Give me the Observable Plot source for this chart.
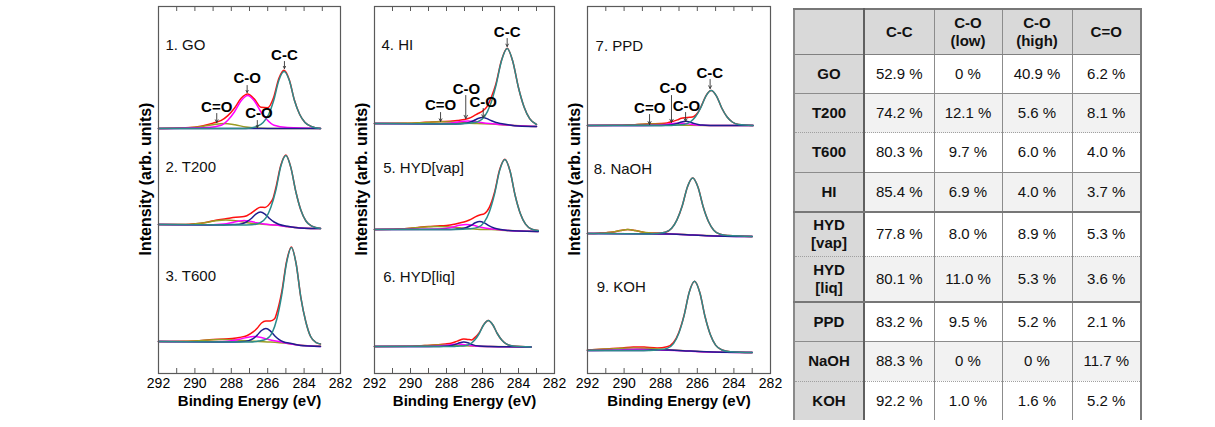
<!DOCTYPE html>
<html><head><meta charset="utf-8">
<script src="https://cdn.jsdelivr.net/npm/d3@7"></script>
<script src="https://cdn.jsdelivr.net/npm/@observablehq/plot@0.6"></script>
<style>
body{margin:0;background:#fff;font-family:"Liberation Sans",Arial,sans-serif;}
#wrap{position:relative;width:1215px;height:427px;overflow:hidden;background:#fff;}
#wrap svg{position:absolute;top:0;max-width:none;}
#tbl td,#tbl th{padding:0;text-align:center;vertical-align:middle;line-height:18px;}
</style></head><body><div id="wrap"></div>
<script>
// ---------- XPS C1s spectra: [binding energy (eV), intensity (arb.)] ----------
// component order: envelope, C=O, C-O(high), C-O(low), C-C
const GO_env = [[292,0],[290.5,0.7],[289.6,2.6],[289,5.4],[288.55,8.1],[288.19,12.9],[287.83,20.3],[287.46,30.2],[287.1,34.5],[286.74,29.6],[286.37,21.2],[286.01,20.8],[285.67,31.3],[285.39,50],[285.1,58.3],[284.81,48.5],[284.53,28.2],[284.24,14],[283.95,6],[283.6,2],[283.1,0]];
const GO_CdO = [[292,0],[290.8,0.4],[290,1.2],[289.6,2],[289,3.7],[288.4,5],[287.8,3.7],[287.2,1.5],[286.6,0.4],[286,0],[283.1,0]];
const GO_COhigh = [[292,0],[289.28,1],[288.55,3.3],[288.19,8.3],[287.83,16.5],[287.46,27.7],[287.1,33],[286.74,27.7],[286.37,16.5],[286.01,8.3],[285.65,3.3],[284.92,1],[283.1,0]];
const GO_COlow = [[292,0],[283.1,0]];
const GO_CC = [[292,0],[287.2,0],[286.6,2],[286.25,6],[285.95,14],[285.67,28],[285.39,48],[285.1,57],[284.81,48],[284.53,28],[284.24,14],[283.95,6],[283.6,2],[283.1,0]];

const T200_env = [[292,4],[290.5,4],[289.95,4.75],[289.4,6.1],[288.85,8.3],[288.3,9.8],[287.75,11.3],[287.3,11.9],[286.9,15.5],[286.65,18.9],[286.4,21.2],[286.15,21.1],[285.9,24.6],[285.7,30.5],[285.55,41],[285.28,63.3],[285.0,73.5],[284.73,61.1],[284.45,36.5],[284.18,18.5],[283.9,7.5],[283.57,2.3],[283.1,0]];
const T200_CdO = [[292,4],[290.5,4],[289.95,4.75],[289.4,6],[288.85,7.7],[288.3,8.5],[287.75,7.7],[287.2,6],[286.65,4.75],[286.1,4],[285.5,3.5],[285,2],[284.5,1],[284,0.3],[283.1,0]];
const T200_COhigh = [[292,4],[289.2,3.6],[288.4,4.4],[288.0,5.7],[287.6,7.3],[287.3,8],[287.0,7.3],[286.6,5.7],[286.2,4.4],[285.6,3.5],[285,2],[284.5,1],[284,0.3],[283.1,0]];
const T200_COlow = [[292,4],[288.4,3.5],[287.9,3.9],[287.4,4.8],[287.15,6.75],[286.9,10],[286.65,14.4],[286.4,16.5],[286.15,14.4],[285.9,10],[285.65,6.5],[285.4,4.3],[284.9,2.2],[284.5,1],[284,0.3],[283.1,0]];
const T200_CC = [[292,4],[287.5,3.5],[286.87,3.7],[286.43,5.5],[286.1,10.6],[285.83,21],[285.55,38.5],[285.28,62.3],[285.0,73],[284.73,61.1],[284.45,36.5],[284.18,18.5],[283.9,7.5],[283.57,2.3],[283.1,0]];

const T600_env = [[292,5],[290,5.5],[289,7.1],[288.35,7.5],[287.95,8.1],[287.55,9.1],[287.15,10.8],[286.8,14.6],[286.58,18.2],[286.34,23.5],[286.1,25.5],[285.86,25.6],[285.62,27.8],[285.49,34.2],[285.23,54.5],[284.96,85.3],[284.7,99.5],[284.44,83],[284.18,49.2],[283.91,25],[283.65,10.2],[283.33,3.8],[283.1,2.5]];
const T600_CdO = [[292,5],[290,5.5],[289,6.8],[288.5,7],[288,6.8],[287,5.5],[286,4.6],[285,3.2],[284.5,2],[284,1],[283.1,0.5]];
const T600_COhigh = [[292,5],[289.5,4.7],[288.35,5.05],[287.95,5.9],[287.55,7.25],[287.15,9.1],[286.75,10],[286.35,9],[285.95,7],[285.55,5.4],[285.15,4],[284.35,1.5],[283.1,0]];
const T600_COlow = [[292,5],[288,4.5],[287.5,4.8],[287.05,5.9],[286.8,7.9],[286.58,11.4],[286.34,16],[286.1,18],[285.86,15.7],[285.62,10.8],[285.39,7.2],[285.15,4.8],[284.7,3],[284.2,1],[283.1,0]];
const T600_CC = [[292,5],[287,4.5],[286.49,5.5],[286.07,7.4],[285.75,14],[285.49,28],[285.23,51.5],[284.96,84],[284.7,99],[284.44,83],[284.18,49.2],[283.91,25],[283.65,10.2],[283.33,3.8],[283.1,2.5]];

const HI_env = [[292,3],[290.3,3.2],[289.5,3.75],[288.8,4.6],[288.3,5],[287.8,5.25],[287.4,6.1],[287.0,7],[286.75,8.2],[286.5,10.4],[286.25,13],[286.0,15.4],[285.75,19.9],[285.5,29.7],[285.26,42.3],[284.94,66.5],[284.63,78.2],[284.32,65.3],[284.0,38.7],[283.69,19.5],[283.38,7.8],[283.0,2]];
const HI_CdO = [[292,3],[290.3,3.2],[289.5,3.7],[288.8,4.4],[288.3,4.7],[287.8,4.4],[287.1,3.7],[286.3,3],[285.5,2.6],[284.5,1.2],[283,0]];
const HI_COhigh = [[292,3],[288.6,2.6],[288,3],[287.6,3.8],[287.2,5],[286.8,5.5],[286.4,5],[286,3.8],[285.6,2.9],[285,2],[284.3,1],[283,0]];
const HI_COlow = [[292,3],[288,2.5],[287.5,2.6],[287.0,3.2],[286.75,4.1],[286.5,5.75],[286.25,8],[286.0,9],[285.75,7.9],[285.5,5.7],[285.25,4],[285.0,3.1],[284.5,1.6],[284,0.6],[283,0]];
const HI_CC = [[292,3],[287.5,2.5],[286.73,3.3],[286.26,4.8],[285.88,10.1],[285.57,21.5],[285.26,40.5],[284.94,66],[284.63,78],[284.32,65.3],[284.0,38.7],[283.69,19.5],[283.38,7.8],[283.0,2]];

const VAP_env = [[292,2],[290.7,2.45],[290,3.2],[289.5,4.2],[289,5.0],[288.5,5.5],[288,6.1],[287.65,6.9],[287.28,8.4],[286.9,10.3],[286.65,12.1],[286.4,14.6],[286.15,16.5],[285.91,17.6],[285.62,24.1],[285.335,39],[285.05,61.7],[284.76,72.3],[284.47,60.5],[284.185,36],[283.9,18],[283.61,7.3],[283.26,2.3],[282.9,1]];
const VAP_CdO = [[292,2],[290.7,2.45],[290,3.2],[289.5,4.1],[289,4.8],[288.5,5],[288,4.8],[287.5,4.1],[287,3.2],[286.3,2.3],[285.5,1.9],[284.5,0.9],[282.9,0]];
const VAP_COhigh = [[292,2],[289.2,2.3],[288.4,2.5],[288.0,3.3],[287.65,4.5],[287.28,6.2],[286.9,7],[286.53,6.2],[286.15,4.5],[285.78,3.2],[285.4,2.4],[284.6,1.1],[284,0.4],[282.9,0]];
const VAP_COlow = [[292,2],[288,2],[287.5,2.3],[287.15,2.8],[286.9,4],[286.65,6],[286.4,8.7],[286.15,10],[285.9,8.6],[285.65,5.8],[285.4,3.7],[285.15,2.6],[284.6,1.1],[284,0.4],[282.9,0]];
const VAP_CC = [[292,2],[287.5,2],[286.72,2.7],[286.26,4.1],[285.91,9.1],[285.62,19.6],[285.335,37.1],[285.05,60.9],[284.76,72],[284.47,60.5],[284.185,36],[283.9,18],[283.61,7.3],[283.26,2.3],[282.9,1]];

const LIQ_env = [[292,1],[290,1.3],[289.2,2.0],[288.5,2.8],[288.05,3.6],[287.7,4.6],[287.4,6.4],[287.04,8.6],[286.82,8.1],[286.6,7.6],[286.43,9.85],[286.18,14.9],[285.93,22.9],[285.68,27],[285.43,22.8],[285.18,14],[284.93,7.5],[284.68,3.6],[284.3,1.5],[283.3,0.5]];
const LIQ_CdO = [[292,1],[290,1.3],[289.2,1.9],[288.5,2.4],[288,2.4],[287.3,1.9],[286.6,1.4],[285.5,1],[283.3,0.5]];
const LIQ_COhigh = [[292,1],[289,1.1],[288.4,1.5],[288.05,2.2],[287.7,3],[287.4,3.5],[287.1,3],[286.75,2.2],[286.4,1.5],[285.7,1],[283.3,0.5]];
const LIQ_COlow = [[292,1],[288.4,1],[287.9,1.4],[287.5,3.1],[287.26,4.8],[287.04,5.5],[286.82,4.8],[286.6,3.1],[286.2,1.4],[285.6,1],[283.3,0.5]];
const LIQ_CC = [[292,1],[287.6,1],[287.38,1.3],[286.98,1.8],[286.68,3.6],[286.43,7.5],[286.18,14],[285.93,22.8],[285.68,27],[285.43,22.8],[285.18,14],[284.93,7.5],[284.68,3.6],[284.3,1.5],[283.3,0.5]];

const PPD_env = [[292,0],[290.5,0.15],[289.5,0.75],[289,1.35],[288.5,1.7],[288,1.95],[287.65,2.55],[287.33,4.15],[287.09,5.6],[286.865,7.2],[286.64,7.8],[286.415,8.2],[286.19,9.05],[285.965,13],[285.74,21.1],[285.53,29.7],[285.24,35.05],[284.95,29.4],[284.665,17.5],[284.38,8.75],[284.09,3.5],[283.74,1],[282.95,0]];
const PPD_CdO = [[292,0],[290.5,0.15],[290,0.4],[289.5,0.75],[289,1.25],[288.5,1.5],[288,1.25],[287.5,0.75],[287,0.4],[286.5,0.15],[285.5,0],[282.95,0]];
const PPD_COhigh = [[292,0],[288.95,0.08],[288.3,0.25],[287.98,0.6],[287.65,1.25],[287.33,2.1],[287.0,2.5],[286.68,2.1],[286.35,1.25],[286.03,0.6],[285.7,0.25],[285,0],[282.95,0]];
const PPD_COlow = [[292,0],[288.5,0],[287.99,0.1],[287.54,0.43],[287.315,1.1],[287.09,2.15],[286.865,3.6],[286.64,4.3],[286.415,3.6],[286.19,2.15],[285.965,1.1],[285.74,0.43],[285.29,0.1],[284.5,0],[282.95,0]];
const PPD_CC = [[292,0],[287.5,0],[287.2,0.35],[286.74,1],[286.39,3.5],[286.1,8.75],[285.815,17.5],[285.53,29.4],[285.24,35],[284.95,29.4],[284.665,17.5],[284.38,8.75],[284.09,3.5],[283.74,1],[282.95,0]];

const NAOH_env = [[292,3],[291.4,3.3],[290.6,4.5],[290.2,6],[289.8,7],[289.4,6],[289,4.5],[288.6,3.4],[288.21,3.4],[287.75,4.3],[287.4,8.3],[287.11,16.7],[286.825,30.5],[286.54,49.6],[286.25,58.5],[285.96,49.2],[285.675,29.5],[285.39,15],[285.1,6.3],[284.75,2.2],[284.3,1],[283,0]];
const NAOH_CdO = [[292,3],[291.4,3.3],[290.6,4.5],[290.2,6],[289.8,7],[289.4,6],[289,4.5],[288.2,3],[287.5,2.6],[286.5,1.8],[285.5,0.9],[284.5,0.4],[283,0]];
const NAOH_COhigh = [[292,3],[287.5,2.5],[286.25,1.5],[285.5,0.8],[284.5,0.3],[283,0]];
const NAOH_COlow = [[292,3],[287.5,2.5],[286.25,1.5],[285.5,0.8],[284.5,0.3],[283,0]];
const NAOH_CC = [[292,3],[288.6,2.5],[288.21,3.1],[287.75,4.2],[287.4,8.2],[287.11,16.6],[286.825,30.5],[286.54,49.6],[286.25,58.5],[285.96,49.2],[285.675,29.5],[285.39,15],[285.1,6.3],[284.75,2.2],[284.3,1],[283,0]];

const KOH_env = [[292,2.6],[291.5,3.1],[290.8,3.8],[290.1,4.6],[289.5,5.6],[288.9,5.4],[288.2,4.6],[287.65,5.8],[287.3,10],[287.01,20.1],[286.725,37],[286.44,60.4],[286.15,71.2],[285.86,59.7],[285.575,35.7],[285.29,18],[285.0,7.4],[284.65,2.5],[284.2,0.8],[283,0]];
const KOH_CdO = [[292,2.6],[291.5,3],[290.8,3.6],[290.1,4.2],[289.5,4.5],[288.9,4.2],[288.2,3.6],[287.5,2.7],[286.5,1.6],[285.5,0.7],[284.5,0.3],[283,0]];
const KOH_COhigh = [[292,2],[291,2.2],[290.3,2.6],[289.8,3],[289.3,3.2],[288.8,3],[288.3,2.6],[287.6,2.2],[286.5,1.4],[285.3,0.5],[283,0]];
const KOH_COlow = [[292,2],[289.5,2],[288.5,2.4],[288,2.7],[287.5,2.4],[286.8,1.8],[285.5,0.7],[284.5,0.3],[283,0]];
const KOH_CC = [[292,2],[288.6,2],[288.11,2.7],[287.65,4.1],[287.3,8.9],[287.01,19.3],[286.725,36.6],[286.44,60.2],[286.15,71.2],[285.86,59.7],[285.575,35.7],[285.29,18],[285.0,7.4],[284.65,2.5],[284.2,0.8],[283,0]];

// stacking offsets of the three spectra in each column
const col1Names = ["1. GO","2. T200","3. T600"];
const col2Names = ["4. HI","5. HYD[vap]","6. HYD[liq]"];
const col3Names = ["7. PPD","8. NaOH","9. KOH"];
const col1Offsets = [245,145,27];
const col2Offsets = [247,142,26];
const col3Offsets = [248,137,21];
const col1Curves = [[GO_env,GO_CdO,GO_COhigh,GO_COlow,GO_CC],[T200_env,T200_CdO,T200_COhigh,T200_COlow,T200_CC],[T600_env,T600_CdO,T600_COhigh,T600_COlow,T600_CC]];
const col2Curves = [[HI_env,HI_CdO,HI_COhigh,HI_COlow,HI_CC],[VAP_env,VAP_CdO,VAP_COhigh,VAP_COlow,VAP_CC],[LIQ_env,LIQ_CdO,LIQ_COhigh,LIQ_COlow,LIQ_CC]];
const col3Curves = [[PPD_env,PPD_CdO,PPD_COhigh,PPD_COlow,PPD_CC],[NAOH_env,NAOH_CdO,NAOH_COhigh,NAOH_COlow,NAOH_CC],[KOH_env,KOH_CdO,KOH_COhigh,KOH_COlow,KOH_CC]];
// panel-name anchor [energy, intensity]
const col1NamePos = [[291.62,328.7],[291.62,206],[291.62,97.5]];
const col2NamePos = [[291.61,328],[291.52,205],[291.52,96]];
const col3NamePos = [[291.56,327],[291.66,204],[291.5,86]];
// peak annotations: [label, text energy, text intensity, arrow energy, arrow start, arrow tip]
const col1Ann = [["C-C",285.08,318,285.08,312,305],["C-O",287.13,295.5,287.13,288,281],["C=O",288.8,266,288.8,260,251],["C-O",286.48,260,286.57,253,246]];
const col2Ann = [["C-C",284.63,341,284.63,335,327],["C-O",286.89,284.5,286.93,278,255],["C=O",288.33,268,288.33,261,252],["C-O",285.96,271,285.96,265,256]];
const col3Ann = [["C-C",285.32,300.5,285.3,294,285],["C-O",287.32,285,287.41,278,251],["C=O",288.6,265.5,288.61,259,249],["C-O",286.59,267.5,286.64,261,252]];

const xMajor = [292,290,288,286,284,282];
const xMinor = [283,284,285,286,287,288,289,290,291];

// ---------- table ----------
const tableCols = ["C-C","C-O<br>(low)","C-O<br>(high)","C=O"];
const tableRows = ["GO","T200","T600","HI","HYD<br>[vap]","HYD<br>[liq]","PPD","NaOH","KOH"];
const pctCC = [52.9,74.2,80.3,85.4,77.8,80.1,83.2,88.3,92.2];
const pctCOlow = [0,12.1,9.7,6.9,8.0,11.0,9.5,0,1.0];
const pctCOhigh = [40.9,5.6,6.0,4.0,8.9,5.3,5.2,0,1.6];
const pctCdO = [6.2,8.1,4.0,3.7,5.3,3.6,2.1,11.7,5.2];

// ---------- styles ----------
const compNames = ["env","CdO","COhigh","COlow","CC"];
const compColors = ["#ff1010","#9c9c24","#ff00ff","#1e1e8e","#2b8b8b"];
const FONT = "'Liberation Sans', Arial, sans-serif";

const wrap = document.getElementById("wrap");

function makeCol(left, width, mL, mR, names, offsets, curves, namePos, ann) {
  const rows = [];
  curves.forEach((panel, p) => panel.forEach((pairs, k) => pairs.forEach(([e, v]) =>
    rows.push({panel: p, comp: compNames[k], e, v: v + offsets[p]}))));
  const labels = names.map((t, i) => ({t, e: namePos[i][0], v: namePos[i][1]}));
  const anns = ann.map(([t, te, tv, ae, a1, a2]) => ({t, te, tv, ae, a1, a2}));
  const frameH = 367;
  const marks = [];
  compNames.forEach((c, i) => {
    marks.push(Plot.line(rows.filter(r => r.comp === c), {
      x: "e", y: "v", z: "panel", stroke: compColors[i], strokeWidth: 1.5, curve: "monotone-x"
    }));
  });
  marks.push(
    Plot.frame({stroke: "#5a5a5a", strokeWidth: 1.2}),
    Plot.tickX(xMinor, {x: d => d, insetTop: frameH - 5, stroke: "#5a5a5a"}),
    Plot.tickX(xMinor, {x: d => d, insetBottom: frameH - 5, stroke: "#5a5a5a"}),
    Plot.axisX({ticks: xMajor, tickSize: 0, tickPadding: 5, label: null, tickFormat: d => String(d)}),
    Plot.text(["Binding Energy (eV)"], {text: d => d, frameAnchor: "bottom", lineAnchor: "middle", dy: 28, fontWeight: "bold", fontSize: 15}),
    Plot.text(["Intensity (arb. units)"], {text: d => d, frameAnchor: "left", textAnchor: "middle", rotate: -90, dx: -13, dy: -11, fontWeight: "bold", fontSize: 16}),
    Plot.text(labels, {x: "e", y: "v", text: "t", textAnchor: "start", fontSize: 15, fill: "#111"}),
    Plot.arrow(anns, {x1: "ae", y1: "a1", x2: "ae", y2: "a2", stroke: "#333", strokeWidth: 0.9, headLength: 6, headAngle: 55}),
    Plot.text(anns, {x: "te", y: "tv", text: "t", fontWeight: "bold", fontSize: 15, fill: "#000"})
  );
  const svg = Plot.plot({
    width, height: 427,
    marginLeft: mL, marginRight: mR, marginTop: 6, marginBottom: 54,
    x: {domain: [292, 282], label: null},
    y: {domain: [0, 367], axis: null},
    style: {fontFamily: FONT, fontSize: "14px", color: "#000", background: "none", overflow: "visible"},
    marks
  });
  svg.style.left = left + "px";
  wrap.appendChild(svg);
}

makeCol(130, 225, 28, 15, col1Names, col1Offsets, col1Curves, col1NamePos, col1Ann);
makeCol(350, 220, 24, 16, col2Names, col2Offsets, col2Curves, col2NamePos, col2Ann);
makeCol(562, 225, 25, 17, col3Names, col3Offsets, col3Curves, col3NamePos, col3Ann);

// ---------- table (HTML) ----------
const colW = [70, 70, 68, 70, 69];
const rowH = [45, 39.5, 39, 39.5, 39.5, 44.5, 46, 39.5, 39.5, 38.5];
const rowBorder = ["1px solid #808080","1px solid #8c8c8c","1px dotted #a0a0a0","1px solid #8c8c8c","2px solid #777","1px dotted #a0a0a0","2px solid #777","1px solid #8c8c8c","1px dotted #a0a0a0","none"];
const rowBg = ["#fff","#f2f2f2","#fff","#f2f2f2","#fff","#f2f2f2","#fff","#f2f2f2","#fff"];
const fmt = v => v === 0 ? "0 %" : v.toFixed(1) + " %";

const tbl = document.createElement("table");
tbl.id = "tbl";
tbl.style.cssText = `position:absolute;left:793px;top:8px;width:${d3.sum(colW)}px;border-collapse:collapse;table-layout:fixed;font-family:${FONT};font-size:15px;color:#111;border-top:2px solid #777;border-left:2px solid #8a8a8a;border-right:2px solid #7a7a7a;`;
const cg = document.createElement("colgroup");
colW.forEach(w => { const c = document.createElement("col"); c.style.width = w + "px"; cg.appendChild(c); });
tbl.appendChild(cg);

const hr = document.createElement("tr");
hr.style.height = rowH[0] + "px";
["", ...tableCols].forEach((t, j) => {
  const th = document.createElement("th");
  th.innerHTML = t;
  th.style.background = "#d9d9d9";
  th.style.fontWeight = "bold";
  th.style.borderBottom = rowBorder[0];
  th.style.borderRight = j === 0 ? "2px solid #606060" : "1px solid #8c8c8c";
  hr.appendChild(th);
});
tbl.appendChild(hr);

tableRows.forEach((name, i) => {
  const tr = document.createElement("tr");
  tr.style.height = rowH[i + 1] + "px";
  const vals = [pctCC[i], pctCOlow[i], pctCOhigh[i], pctCdO[i]];
  const cells = [name, ...vals.map(fmt)];
  cells.forEach((t, j) => {
    const td = document.createElement("td");
    td.innerHTML = t;
    td.style.background = j === 0 ? "#d9d9d9" : rowBg[i];
    td.style.fontWeight = j === 0 ? "bold" : "normal";
    td.style.borderBottom = rowBorder[i + 1];
    td.style.borderRight = j === 0 ? "2px solid #606060" : "1px solid #8c8c8c";
    tr.appendChild(td);
  });
  tbl.appendChild(tr);
});
wrap.appendChild(tbl);
</script></body></html>
